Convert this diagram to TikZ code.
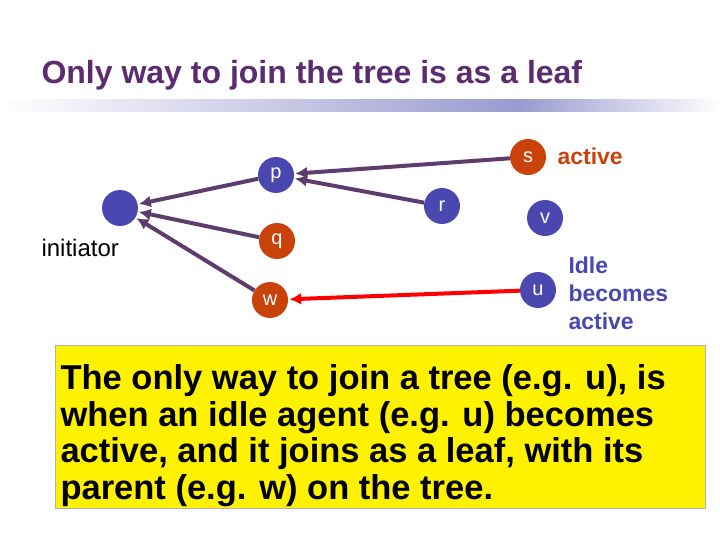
\documentclass[tikz,border=0pt]{standalone}
\usepackage{fontspec}
\setmainfont{Liberation Sans}
\usetikzlibrary{arrows.meta}
\definecolor{ttl}{HTML}{5B2C6F}
\definecolor{nblue}{HTML}{4A48B0}
\definecolor{nred}{HTML}{C8420A}
\definecolor{arr}{HTML}{5E3C6E}
\definecolor{band}{HTML}{9A9AD0}
\begin{document}
\begin{tikzpicture}[x=1pt,y=-1pt,
  nd/.style={circle,minimum size=36pt,inner sep=0pt,font=\fontsize{20}{22}\selectfont,text=white},
  bn/.style={nd,fill=nblue},
  rn/.style={nd,fill=nred},
  pa/.style={draw=arr,line width=4pt,-{Latex[length=12pt,width=12pt]},shorten >=1pt}]
\useasboundingbox (0,0) rectangle (720,540);
\node[anchor=west,text=ttl,font=\fontsize{32}{36}\selectfont\bfseries] (title) at (38,75) {Only way to join the tree is as a leaf};
\shade[left color=white,right color=band] (0,100) rectangle (520,112);
\shade[left color=band,right color=white] (520,100) rectangle (720,112);
\node[bn] (i) at (120,208) {};
\node[bn] (p) at (276,175) {p};
\node[rn] (q) at (277,241) {q};
\node[rn] (w) at (270,300) {w};
\node[bn] (r) at (442,206) {r};
\node[rn] (s) at (528,157) {s};
\node[bn] (v) at (545,218) {v};
\node[bn] (u) at (538,290) {u};
\node[anchor=west,font=\fontsize{24}{26}\selectfont] (il) at (38,248) {initiator};
\node[anchor=west,text=nred,font=\fontsize{23}{26}\selectfont\bfseries] (al) at (554,156) {active};
\node[anchor=north west,align=left,text=nblue,font=\fontsize{23}{28}\selectfont\bfseries] (ib) at (565,253) {Idle\\becomes\\active};
\draw[pa] (s) -- (p);
\draw[pa] (r) -- (p);
\draw[pa] (p) -- (i);
\draw[pa] (q) -- (i);
\draw[pa] (w) -- (i);
\draw[draw=red,line width=4pt,-{Latex[length=12pt,width=12pt]},shorten >=1pt] (u) -- (w);
\node[draw=gray!60,fill=yellow,anchor=north west,minimum width=650pt,minimum height=163pt,inner sep=0pt] (box) at (55,345) {};
\node[anchor=north west,align=left,font=\fontsize{34.5}{36.5}\selectfont\bfseries] (bt) at (57,361) {The only way to join a tree (e.g. u), is\\when an idle agent (e.g. u) becomes\\active, and it joins as a leaf, with its\\parent (e.g. w) on the tree.};
\end{tikzpicture}
\end{document}
